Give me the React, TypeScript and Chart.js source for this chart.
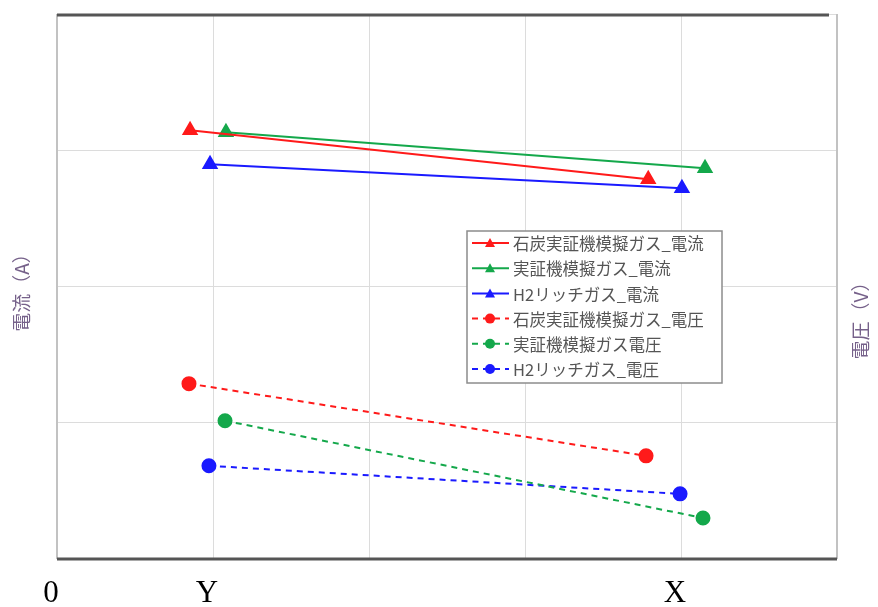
import { useEffect, useRef } from "react";
import { Chart, registerables } from "chart.js";

Chart.register(...registerables);

const W = 878;
const H = 607;

// x-axis tick labels at tick values 0..5
const xTickLabels = ["0", "Y", "", "", "X", ""];

const seriesNames = [
  "石炭実証機模擬ガス_電流",
  "実証機模擬ガス_電流",
  "H2リッチガス_電流",
  "石炭実証機模擬ガス_電圧",
  "実証機模擬ガス電圧",
  "H2リッチガス_電圧",
];

// current series (left axis, A)
const coalCurrentX = [0.853, 3.79];
const coalCurrentY = [3.147, 2.787];
const demoCurrentX = [1.083, 4.154];
const demoCurrentY = [3.132, 2.868];
const h2CurrentX = [0.981, 4.006];
const h2CurrentY = [2.897, 2.721];

// voltage series (right axis, V)
const coalVoltageX = [0.846, 3.776];
const coalVoltageY = [1.287, 0.757];
const demoVoltageX = [1.077, 4.141];
const demoVoltageY = [1.015, 0.301];
const h2VoltageX = [0.974, 3.994];
const h2VoltageY = [0.684, 0.478];

const RED = "#ff1a1a";
const GREEN = "#14a84b";
const BLUE = "#1a1aff";

const pts = (xs: number[], ys: number[]) => xs.map((x, i) => ({ x, y: ys[i] }));

const decorPlugin = {
  id: "decor",
  afterDraw(chart: any) {
    const ctx: CanvasRenderingContext2D = chart.ctx;
    const a = chart.chartArea;
    ctx.save();
    const seg = (x1: number, y1: number, x2: number, y2: number) => {
      ctx.beginPath();
      ctx.moveTo(x1, y1);
      ctx.lineTo(x2, y2);
      ctx.stroke();
    };
    // frame
    ctx.setLineDash([]);
    ctx.strokeStyle = "#c2c2c2";
    ctx.lineWidth = 2;
    seg(a.left, a.top, a.left, a.bottom);
    seg(a.right, a.top, a.right, a.bottom);
    ctx.strokeStyle = "#555555";
    ctx.lineWidth = 3;
    seg(a.left, a.top + 1, a.right - 8, a.top + 1);
    seg(a.left, a.bottom, a.right, a.bottom);

    // axis titles (both rotated counter-clockwise)
    ctx.fillStyle = "#76618a";
    ctx.font = "19px 'Noto Sans CJK JP'";
    ctx.textAlign = "center";
    ctx.textBaseline = "middle";
    ctx.save();
    ctx.translate(22, 288);
    ctx.rotate(-Math.PI / 2);
    ctx.fillText("電流（A）", 0, 0);
    ctx.restore();
    ctx.save();
    ctx.translate(861, 316);
    ctx.rotate(-Math.PI / 2);
    ctx.fillText("電圧（V）", 0, 0);
    ctx.restore();

    // legend box
    const lx = 467, ly = 231, lw = 255, lh = 152;
    ctx.fillStyle = "#ffffff";
    ctx.fillRect(lx, ly, lw, lh);
    ctx.strokeStyle = "#8c8c8c";
    ctx.lineWidth = 1.5;
    ctx.strokeRect(lx, ly, lw, lh);
    const ds = chart.data.datasets;
    ctx.font = "16.5px 'Noto Sans CJK JP'";
    ctx.textAlign = "left";
    ds.forEach((d: any, i: number) => {
      const cy = ly + 12 + i * 25.2;
      ctx.strokeStyle = d.borderColor;
      ctx.fillStyle = d.borderColor;
      ctx.lineWidth = 2;
      ctx.setLineDash(d.borderDash || []);
      seg(lx + 5, cy, lx + 42, cy);
      ctx.setLineDash([]);
      const mx = lx + 23;
      ctx.beginPath();
      if (d.pointStyle === "triangle") {
        ctx.moveTo(mx, cy - 5);
        ctx.lineTo(mx + 5, cy + 4);
        ctx.lineTo(mx - 5, cy + 4);
        ctx.closePath();
      } else {
        ctx.arc(mx, cy, 5, 0, Math.PI * 2);
      }
      ctx.fill();
      ctx.fillStyle = "#555555";
      ctx.fillText(d.label, lx + 46, cy + 1);
    });
    ctx.restore();
  },
};

export default function App() {
  const ref = useRef<HTMLCanvasElement | null>(null);
  useEffect(() => {
    if (!ref.current) return;
    const mk = (label: string, xs: number[], ys: number[], color: string, tri: boolean) => ({
      label,
      data: pts(xs, ys),
      borderColor: color,
      backgroundColor: color,
      pointBackgroundColor: color,
      pointBorderColor: color,
      borderWidth: 2,
      borderDash: tri ? [] : [6, 5],
      pointStyle: tri ? "triangle" : "circle",
      pointRadius: tri ? 7.5 : 6.5,
      yAxisID: tri ? "y" : "y1",
      showLine: true,
      tension: 0,
    });
    const chart = new Chart(ref.current, {
      type: "scatter",
      data: {
        datasets: [
          mk(seriesNames[0], coalCurrentX, coalCurrentY, RED, true),
          mk(seriesNames[1], demoCurrentX, demoCurrentY, GREEN, true),
          mk(seriesNames[2], h2CurrentX, h2CurrentY, BLUE, true),
          mk(seriesNames[3], coalVoltageX, coalVoltageY, RED, false),
          mk(seriesNames[4], demoVoltageX, demoVoltageY, GREEN, false),
          mk(seriesNames[5], h2VoltageX, h2VoltageY, BLUE, false),
        ] as any,
      },
      options: {
        animation: false,
        responsive: false,
        maintainAspectRatio: false,
        layout: { padding: { left: 57, right: 41, top: 14, bottom: 0 } },
        plugins: { legend: { display: false }, tooltip: { enabled: false } },
        scales: {
          x: {
            type: "linear",
            min: 0,
            max: 5,
            ticks: {
              stepSize: 1,
              autoSkip: false,
              maxRotation: 0,
              padding: 16,
              labelOffset: -6,
              color: "#000000",
              font: { family: "'Liberation Serif', serif", size: 31 },
              callback: (v: any) => xTickLabels[Math.round(Number(v))] ?? "",
            },
            grid: { color: "#dcdcdc", lineWidth: 1, drawTicks: false },
            border: { display: false },
            afterFit: (s: any) => {
              s.height = 48;
            },
          },
          y: {
            type: "linear",
            position: "left",
            min: 0,
            max: 4,
            ticks: { display: false, stepSize: 1 },
            grid: { color: "#dcdcdc", lineWidth: 1, drawTicks: false },
            border: { display: false },
            afterFit: (s: any) => {
              s.width = 0;
            },
          },
          y1: {
            type: "linear",
            position: "right",
            min: 0,
            max: 4,
            display: false,
          },
        },
      } as any,
      plugins: [decorPlugin],
    });
    return () => chart.destroy();
  }, []);
  return (
    <div style={{ position: "fixed", left: 0, top: 0, width: W, height: H, background: "#fff" }}>
      <canvas ref={ref} width={W} height={H} />
    </div>
  );
}
